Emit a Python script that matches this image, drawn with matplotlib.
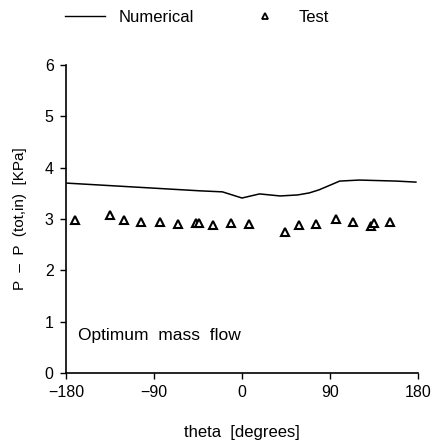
import matplotlib
matplotlib.use("Agg")
import matplotlib.pyplot as plt
from matplotlib.lines import Line2D

plt.rcParams['font.family'] = ['Liberation Sans', 'DejaVu Sans']

num_theta = [-179, -43, -20, 0, 18, 39, 57, 69, 79, 100, 120, 158, 178]
num_p = [3.70, 3.55, 3.53, 3.41, 3.49, 3.45, 3.47, 3.51, 3.57, 3.74, 3.76, 3.74, 3.72]

test_theta = [-171, -135, -121, -103, -84, -65, -47, -44, -30, -11, 7,
              44, 58, 76, 96, 114, 132, 135, 151]
test_p = [2.98, 3.08, 2.98, 2.94, 2.94, 2.91, 2.92, 2.92, 2.88, 2.92, 2.90,
          2.75, 2.88, 2.90, 3.00, 2.94, 2.86, 2.92, 2.94]

xticks = [-180, -90, 0, 90, 180]
xticklabels = ['\u2212180', '\u221290', '0', '90', '180']
yticks = [0, 1, 2, 3, 4, 5, 6]

fig = plt.figure(figsize=(4.38, 4.46), dpi=100)
ax = fig.add_axes([0.151, 0.1637, 0.803, 0.6903])

ax.plot(num_theta, num_p, color='black', lw=1.1)
ax.plot(test_theta, test_p, linestyle='none', marker='^', markersize=5.5,
        markerfacecolor='white', markeredgecolor='black', markeredgewidth=1.5)

ax.set_xlim(-180, 180)
ax.set_ylim(0, 6)
ax.set_xticks(xticks)
ax.set_xticklabels(xticklabels)
ax.set_yticks(yticks)
for s in ['top', 'right']:
    ax.spines[s].set_visible(False)
for s in ['left', 'bottom']:
    ax.spines[s].set_linewidth(1.2)
ax.tick_params(direction='out', length=4, width=1, labelsize=11.5)
ax.tick_params(axis='x', pad=5)
ax.tick_params(axis='y', pad=5)

ax.set_xlabel('theta  [degrees]', fontsize=12, labelpad=18)
ax.set_ylabel('P  \u2013  P  (tot,in)  [KPa]', fontsize=11, labelpad=13)

ax.text(-168, 0.74, 'Optimum  mass  flow', fontsize=12.5, va='center', ha='left')

handles = [Line2D([], [], color='black', lw=1.0),
           Line2D([], [], linestyle='none', marker='^', markersize=4.5,
                  markerfacecolor='white', markeredgecolor='black', markeredgewidth=1.3)]
fig.legend(handles, ['Numerical', 'Test'], loc='upper left',
           bbox_to_anchor=(0.148, 0.978), ncol=2, frameon=False, fontsize=12,
           handlelength=2.4, columnspacing=3.1, handletextpad=0.8,
           borderaxespad=0, borderpad=0)

fig.savefig('out.png', dpi=100)
